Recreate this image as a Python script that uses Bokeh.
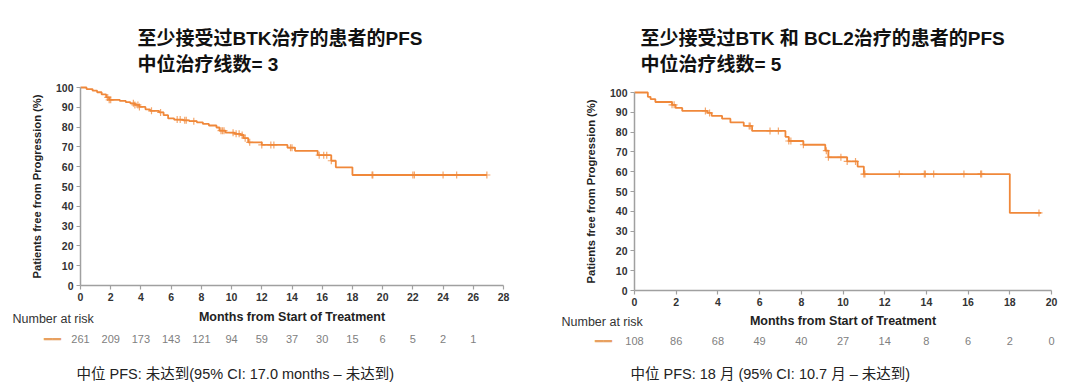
import numpy as np
from bokeh.plotting import figure
from bokeh.layouts import row
from bokeh.models import Range1d, FixedTicker, Label, LabelSet, ColumnDataSource
from bokeh.core.properties import value
from bokeh.embed import file_html
from bokeh.resources import INLINE

# ---------------- data ----------------
# Left panel: patients who received at least BTK therapy
left_time = [0, 0.4, 0.8, 1.1, 1.4, 1.7, 1.9, 2.6, 3.0, 3.3, 3.6, 3.9, 4.3, 4.6, 5.2, 5.5, 5.8,
             6.2, 6.8, 7.2, 7.7, 8.1, 8.5, 9.0, 9.2, 9.6, 10.2, 10.6, 10.8, 11.1, 12.0, 13.7,
             14.2, 15.7, 16.6, 16.9, 18.0]
left_surv = [100, 99.2, 98.4, 97.6, 96.5, 95.0, 93.8, 93.2, 92.6, 92.0, 91.2, 90.2, 89.0, 88.2,
             87.4, 86.0, 84.4, 83.8, 83.4, 83.0, 82.4, 81.6, 80.8, 79.8, 78.2, 77.2, 76.6, 76.0,
             74.4, 72.3, 71.0, 69.6, 68.0, 65.8, 63.0, 59.7, 55.8]
left_end = 26.9
left_censor = [1.8, 1.9, 2.0, 3.5, 3.6, 3.8, 3.9, 4.7, 5.3, 6.4, 6.6, 6.9, 7.0, 7.5, 9.3, 9.4,
               9.5, 10.1, 10.3, 10.5, 10.7, 10.9, 11.2, 12.0, 12.6, 12.8, 13.9, 14.0, 15.8, 16.1,
               16.3, 16.6, 19.3, 19.35, 22.0, 22.1, 24.0, 24.9, 26.9]
left_risk_t = [0, 2, 4, 6, 8, 10, 12, 14, 16, 18, 20, 22, 24, 26]
left_risk_n = [261, 209, 173, 143, 121, 94, 59, 37, 30, 15, 6, 5, 2, 1]
left_xticks = [0, 2, 4, 6, 8, 10, 12, 14, 16, 18, 20, 22, 24, 26, 28]

# Right panel: patients who received at least BTK and BCL2 therapy
right_time = [0, 0.64, 0.77, 1.0, 1.8, 1.97, 2.29, 3.5, 3.7, 4.2, 4.6, 5.24, 5.64, 7.24, 7.4,
              8.1, 9.15, 9.3, 10.2, 10.7, 11.0, 18.0]
right_surv = [100, 97.8, 96.7, 95.2, 93.8, 92.2, 90.7, 89.7, 88.2, 86.8, 84.9, 83.1, 80.6, 77.6,
              75.5, 73.6, 70.6, 67.3, 65.2, 62.6, 58.8, 39.2]
right_end = 19.5
right_censor = [1.8, 1.9, 3.4, 3.6, 5.5, 5.55, 6.5, 6.9, 7.4, 7.5, 8.1, 9.2, 9.3, 9.9, 10.2,
                10.6, 11.0, 11.05, 12.7, 13.9, 13.95, 14.35, 15.8, 16.6, 16.65, 19.4]
right_risk_t = [0, 2, 4, 6, 8, 10, 12, 14, 16, 18, 20]
right_risk_n = [108, 86, 68, 49, 40, 27, 14, 8, 6, 2, 0]
right_xticks = [0, 2, 4, 6, 8, 10, 12, 14, 16, 18, 20]

yticks = [0, 10, 20, 30, 40, 50, 60, 70, 80, 90, 100]

left_title1 = "至少接受过BTK治疗的患者的PFS"
left_title2 = "中位治疗线数= 3"
left_footer = "中位 PFS:  未达到(95% CI: 17.0 months – 未达到)"
right_title1 = "至少接受过BTK 和 BCL2治疗的患者的PFS"
right_title2 = "中位治疗线数= 5"
right_footer = "中位 PFS: 18 月 (95% CI: 10.7 月 – 未达到)"

y_label = "Patients free from Progression (%)"
x_label = "Months from Start of Treatment"
nar_label = "Number at risk"

# ---------------- style ----------------
ORANGE = "#f0883a"
DASH = "#e8a060"
FONT = "Liberation Sans, Noto Sans CJK SC"
AXIS = "#a0a0a0"
FIG_W, FIG_H = 540, 386


def panel(geom, time, surv, end, censor, risk_t, risk_n, xticks, xmax, t1, t2, footer):
    ox, oy = geom["ox"], 0
    fl, fr, f100, f0 = geom["fl"], geom["fr"], geom["y100"], geom["y0"]

    def dx(px):
        return (px - fl) / (fr - fl) * xmax

    def dy(py):
        return (f0 - py) / (f0 - f100) * 100

    p = figure(width=FIG_W, height=FIG_H,
               x_range=Range1d(dx(ox), dx(ox + FIG_W)),
               y_range=Range1d(dy(oy + FIG_H), dy(oy)),
               output_backend="svg", toolbar_location=None, title=None,
               min_border_left=0, min_border_right=0, min_border_top=0, min_border_bottom=0)
    p.outline_line_color = None
    p.xgrid.visible = False
    p.ygrid.visible = False
    p.background_fill_color = "white"
    p.border_fill_color = "white"

    for ax in (p.xaxis[0], p.yaxis[0]):
        ax.fixed_location = 0
        ax.axis_line_color = AXIS
        ax.axis_line_width = 1.5
        ax.major_tick_line_color = AXIS
        ax.major_tick_line_width = 1.2
        ax.major_tick_out = 4
        ax.major_tick_in = 0
        ax.minor_tick_out = 0
        ax.minor_tick_in = 0
        ax.major_label_text_font = FONT
        ax.major_label_text_font_size = "10.5px"
        ax.major_label_text_font_style = "bold"
        ax.major_label_text_color = "#333333"
        ax.major_label_standoff = 3
        ax.axis_label_text_font = FONT
        ax.axis_label_text_font_style = "bold"
        ax.axis_label_text_color = "#222222"
    p.xaxis.bounds = (0, xmax)
    p.yaxis.bounds = (0, 100)
    p.xaxis.ticker = FixedTicker(ticks=xticks)
    p.yaxis.ticker = FixedTicker(ticks=yticks)
    p.yaxis.axis_label = y_label
    p.yaxis.axis_label_text_font_size = "11.2px"
    p.yaxis.axis_label_standoff = 10
    p.xaxis.axis_label = x_label
    p.xaxis.axis_label_text_font_size = "12.5px"
    p.xaxis.axis_label_standoff = geom["xlab_standoff"]

    xs = list(time) + [end]
    ys = list(surv) + [surv[-1]]
    p.step(x=xs, y=ys, mode="after", line_color=ORANGE, line_width=1.8)

    t_arr = np.array(time)
    s_arr = np.array(surv)
    idx = np.searchsorted(t_arr, np.array(censor), side="right") - 1
    p.scatter(x=censor, y=s_arr[idx], marker="cross", size=7, line_color=ORANGE,
              line_alpha=0.75, line_width=1.2)

    # titles
    for txt, py in ((t1, 38), (t2, 63.5)):
        p.add_layout(Label(x=dx(geom["title_x"]), y=dy(py), text=txt, text_font=FONT,
                           text_font_size="19px", text_font_style="bold", text_color="#111111",
                           text_align="left", text_baseline="middle"))
    # number at risk
    p.add_layout(Label(x=dx(geom["nar_x"]), y=dy(geom["nar_y"]), text=nar_label, text_font=FONT,
                       text_font_size="12.5px", text_color="#333333",
                       text_align="left", text_baseline="middle"))
    p.add_layout(Label(x=dx(geom["dash_x"]), y=dy(geom["risk_y"]), text="━━",
                       text_font="DejaVu Sans", text_font_size="14px", text_color=DASH,
                       text_align="center", text_baseline="middle"))
    src = ColumnDataSource(dict(x=risk_t, y=[dy(geom["risk_y"])] * len(risk_t),
                                t=[str(n) for n in risk_n]))
    p.add_layout(LabelSet(x="x", y="y", text="t", source=src, text_font=value(FONT),
                          text_font_size="11px", text_color="#808080",
                          text_align="center", text_baseline="middle"))
    p.add_layout(Label(x=dx(geom["foot_x"]), y=dy(373), text=footer, text_font=FONT,
                       text_font_size="14.5px", text_color="#222222",
                       text_align="left", text_baseline="middle"))
    return p


left_geom = dict(ox=0, fl=80, fr=503, y100=87, y0=285, title_x=137, nar_x=12, nar_y=318,
                 dash_x=52, risk_y=338.5, foot_x=76, xlab_standoff=6)
right_geom = dict(ox=540, fl=634, fr=1051, y100=92, y0=290, title_x=640, nar_x=561, nar_y=321,
                  dash_x=603, risk_y=340, foot_x=630, xlab_standoff=5)

p1 = panel(left_geom, left_time, left_surv, left_end, left_censor, left_risk_t, left_risk_n,
           left_xticks, 28, left_title1, left_title2, left_footer)
p2 = panel(right_geom, right_time, right_surv, right_end, right_censor, right_risk_t,
           right_risk_n, right_xticks, 20, right_title1, right_title2, right_footer)

layout = row(p1, p2)
open("out.html", "w").write(file_html(layout, INLINE))
